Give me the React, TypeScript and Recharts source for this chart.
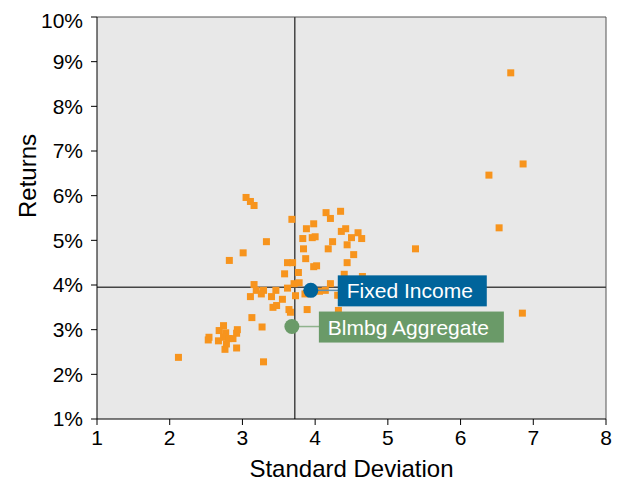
import { CartesianGrid, ReferenceLine, Scatter, ScatterChart, XAxis, YAxis } from "recharts";

// standard deviation / return pairs for the individual funds
const fundStdDev = [
  3.05, 3.11, 3.16, 3.68, 4.15, 4.35, 4.21, 3.98, 3.88, 4.42, 4.36, 4.59, 4.5, 4.64, 3.83, 3.96, 4.0,
  4.24, 3.33, 4.44, 3.84, 4.18, 3.01, 4.53, 2.82, 3.87, 3.62, 3.69, 4.44, 3.98, 4.02, 3.77, 3.58,
  4.4, 4.65, 3.16, 3.71, 3.78, 4.21, 3.19, 3.29, 3.46, 3.62, 3.11, 3.26, 3.4, 3.73, 3.86, 3.55,
  4.06, 4.14, 4.31, 3.42, 3.47, 3.64, 3.66, 3.89, 4.32, 3.13, 3.27, 2.74, 2.54, 2.53, 2.68, 2.77,
  2.93, 2.92, 2.67, 2.74, 2.81, 2.87, 2.78, 2.76, 2.92, 2.12, 3.29, 5.38, 6.69, 6.86, 6.39, 6.53,
  6.85,
];
const fundReturns = [
  5.96, 5.87, 5.78, 5.47, 5.62, 5.65, 5.49, 5.37, 5.26, 5.26, 5.2, 5.17, 5.06, 5.04, 5.04, 5.06, 5.08,
  4.97, 4.97, 4.9, 4.81, 4.81, 4.72, 4.68, 4.55, 4.59, 4.5, 4.5, 4.5, 4.41, 4.43, 4.28, 4.25,
  4.24, 4.19, 4.01, 4.03, 4.05, 4.03, 3.88, 3.88, 3.88, 3.93, 3.74, 3.8, 3.74, 3.76, 3.8, 3.68,
  3.86, 3.88, 3.77, 3.5, 3.54, 3.45, 3.39, 3.45, 3.43, 3.27, 3.06, 3.09, 2.83, 2.77, 2.98, 2.93,
  3.0, 2.92, 2.75, 2.83, 2.8, 2.8, 2.68, 2.56, 2.59, 2.38, 2.28, 4.81, 8.75, 6.71, 6.46, 5.28,
  3.37,
];

const fixedIncome = { name: "Fixed Income", x: 3.94, y: 3.88 };
const blmbgAggregate = { name: "Blmbg Aggregate", x: 3.68, y: 3.07 };

const xTicks = [1, 2, 3, 4, 5, 6, 7, 8];
const yTicks = [1, 2, 3, 4, 5, 6, 7, 8, 9, 10];
const avgStdDev = 3.72;
const avgReturn = 3.95;

const funds = fundStdDev.map((x, i) => ({ x, y: fundReturns[i] }));

const font = "'Liberation Sans', Arial, sans-serif";

const Square = (props: any) => (
  <rect x={props.cx - 3.5} y={props.cy - 3.5} width={7} height={7} fill="#f7941d" />
);

function makeCallout(fill: string, line: string, boxWidth: number) {
  return (props: any) => {
    const { cx, cy, payload } = props;
    return (
      <g>
        <line x1={cx} y1={cy} x2={cx + 28} y2={cy} stroke={line} strokeWidth={1.5} />
        <rect x={cx + 27} y={cy - 15} width={boxWidth} height={31} fill={fill} />
        <text x={cx + 36} y={cy + 8} fill="#fff" fontSize={21} fontFamily={font}>
          {payload.name}
        </text>
        <circle cx={cx} cy={cy} r={7.5} fill={fill} />
      </g>
    );
  };
}

export default function App() {
  return (
    <div style={{ fontFamily: font }}>
      <ScatterChart width={612} height={473} margin={{ top: 9, right: 14, left: 0, bottom: 0 }}>
        <CartesianGrid fill="#e8e8e8" horizontal={false} vertical={false} />
        <XAxis
          type="number"
          dataKey="x"
          domain={[1, 8]}
          ticks={xTicks}
          height={62}
          stroke="#000"
          tickSize={6}
          tickMargin={5}
          tick={{ fill: "#000", fontSize: 21, fontFamily: font }}
          label={{ value: "Standard Deviation", position: "insideBottom", offset: 4, fill: "#000", fontSize: 24 }}
        />
        <YAxis
          type="number"
          dataKey="y"
          domain={[1, 10]}
          ticks={yTicks}
          width={89}
          stroke="#000"
          tickSize={6}
          tickMargin={8}
          tickFormatter={(v) => `${v}%`}
          tick={{ fill: "#000", fontSize: 21, fontFamily: font }}
          label={{ value: "Returns", angle: -90, position: "insideLeft", offset: 19, fill: "#000", fontSize: 24 }}
        />
        <ReferenceLine y={10} stroke="#555" strokeWidth={1} />
        <ReferenceLine x={8} stroke="#555" strokeWidth={1} />
        <ReferenceLine x={avgStdDev} stroke="#444" strokeWidth={1.5} />
        <ReferenceLine y={avgReturn} stroke="#444" strokeWidth={1.5} />
        <Scatter data={funds} shape={Square} isAnimationActive={false} />
        <Scatter
          data={[fixedIncome]}
          shape={makeCallout("#00649b", "#5f8fb0", 149)}
          isAnimationActive={false}
        />
        <Scatter
          data={[blmbgAggregate]}
          shape={makeCallout("#6a9a68", "#8fb38d", 185)}
          isAnimationActive={false}
        />
      </ScatterChart>
    </div>
  );
}
